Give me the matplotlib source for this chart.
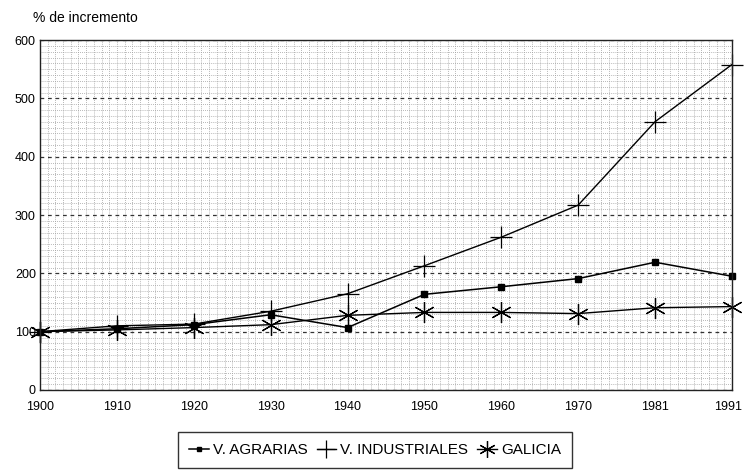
import matplotlib
matplotlib.use("Agg")
import matplotlib.pyplot as plt
import matplotlib.transforms as mtransforms
import numpy as np
from matplotlib.ticker import MultipleLocator

years = ["1900", "1910", "1920", "1930", "1940", "1950", "1960", "1970", "1981", "1991"]
agrarias = [100, 105, 112, 129, 107, 164, 177, 191, 219, 195]
industriales = [100, 110, 113, 135, 165, 213, 262, 317, 460, 558]
galicia = [100, 103, 107, 112, 128, 133, 133, 131, 141, 143]
y_ticks = [0, 100, 200, 300, 400, 500, 600]

plt.rcParams['font.family'] = ['Liberation Sans', 'DejaVu Sans']

fig = plt.figure(figsize=(7.44, 4.74), dpi=100)
ax = fig.add_axes([40/744, 84/474, 692/744, 350/474])
x = np.arange(len(years))

ax.set_xlim(0, len(years) - 1)
ax.set_ylim(0, 600)
ax.set_yticks(y_ticks)
ax.set_xticks(x)
ax.set_xticklabels(years)
ax.xaxis.set_minor_locator(MultipleLocator(0.1))
ax.yaxis.set_minor_locator(MultipleLocator(10))
ax.grid(which='minor', color='#a0a0a0', linestyle=(0, (1, 1.5)), linewidth=0.6)
ax.grid(which='major', axis='y', color='#333333', linestyle=(0, (3, 3)), linewidth=0.9)
ax.grid(which='major', axis='x', color='#a0a0a0', linestyle=(0, (1, 1.5)), linewidth=0.6)
ax.set_axisbelow(True)
ax.tick_params(which='both', length=0, labelsize=9)
ax.tick_params(axis='x', pad=8)
ax.tick_params(axis='y', pad=3)
for s in ax.spines.values():
    s.set_linewidth(1.0)
    s.set_color('#222222')

# nudge the last x label slightly inward so it stays inside the canvas
last = ax.get_xticklabels()[-1]
last.set_transform(last.get_transform() + mtransforms.ScaledTranslation(-4/100, 0, fig.dpi_scale_trans))

l1, = ax.plot(x, agrarias, color='black', lw=1.1, marker='s', ms=4, clip_on=False, label='V. AGRARIAS')
l2, = ax.plot(x, industriales, color='black', lw=1.0, marker='+', ms=16, mew=0.9, clip_on=False, label='V. INDUSTRIALES')
l3, = ax.plot(x, galicia, color='black', lw=1.0, marker=(6, 2, 0), ms=15, mew=0.9, clip_on=False, label='GALICIA')

fig.text(33/744, 1 - 18/474, '% de incremento', fontsize=10, va='center', ha='left')

leg = fig.legend(handles=[l1, l2, l3], loc='center', bbox_to_anchor=(375/744, 1 - 450/474),
                 ncol=3, frameon=True, fancybox=False, edgecolor='black', fontsize=11,
                 handlelength=1.3, handletextpad=0.25, columnspacing=0.6, borderpad=0.7,
                 markerscale=0.8)
leg.get_frame().set_linewidth(1.0)

fig.savefig('out.png', dpi=100)
